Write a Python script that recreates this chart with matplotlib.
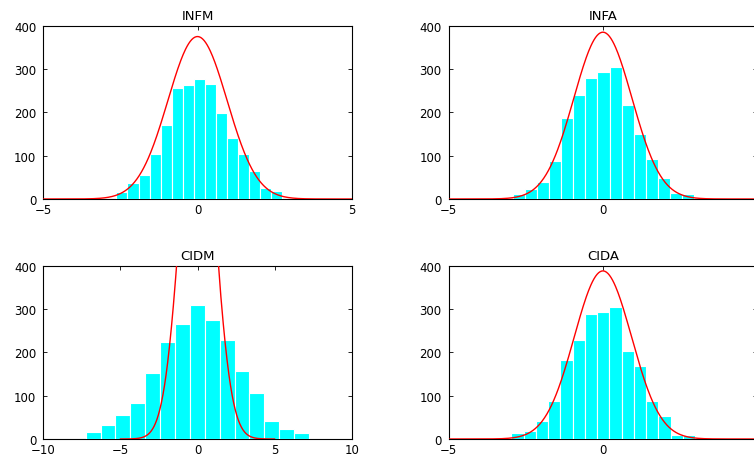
import numpy as np
import matplotlib
matplotlib.use('Agg')
import matplotlib.pyplot as plt

plt.rcParams['font.family'] = ['DejaVu Sans']

# panel titles
titles = ['INFM', 'INFA', 'CIDM', 'CIDA']

# histogram counts (15 bins each)
infm_counts = [17, 37, 56, 103, 170, 256, 264, 278, 266, 198, 140, 105, 65, 25, 19]
infa_counts = [12, 23, 39, 87, 186, 239, 280, 293, 304, 216, 150, 93, 49, 15, 12]
cidm_counts = [17, 33, 56, 84, 152, 224, 265, 310, 275, 229, 158, 107, 42, 23, 14]
cida_counts = [15, 19, 42, 87, 183, 228, 288, 294, 304, 202, 169, 88, 54, 10, 10]

# outer bin edges (min, max) of each histogram
infm_range = (-2.63, 2.75)
infa_range = (-2.91, 2.95)
cidm_range = (-7.25, 7.23)
cida_range = (-2.97, 2.99)

# fitted normal curves: peak height, mean, sigma
infm_fit = (375, 0.0, 0.96)
infa_fit = (385, 0.0, 0.94)
cidm_fit = (880, 0.0, 1.08)
cida_fit = (388, 0.0, 0.93)

# x limits and ticks
xlims = [(-5, 5), (-5, 5), (-10, 10), (-5, 5)]
xticks = [[-5, 0, 5], [-5, 0, 5], [-10, -5, 0, 5, 10], [-5, 0, 5]]
yticks = [0, 100, 200, 300, 400]

counts = [infm_counts, infa_counts, cidm_counts, cida_counts]
ranges = [infm_range, infa_range, cidm_range, cida_range]
fits = [infm_fit, infa_fit, cidm_fit, cida_fit]

W, H = 754, 460
fig = plt.figure(figsize=(W / 100, H / 100), dpi=100)

# axes boxes in pixels: left, top, right, bottom
boxes = [(43.3, 26.7, 351.7, 200), (448.7, 26.7, 757.1, 200),
         (43.3, 266.7, 351.7, 440), (448.7, 266.7, 757.1, 440)]

for i in range(4):
    l, t, r, b = boxes[i]
    ax = fig.add_axes([l / W, 1 - b / H, (r - l) / W, (b - t) / H])
    c = counts[i]
    edges = np.linspace(ranges[i][0], ranges[i][1], len(c) + 1)
    centers = (edges[:-1] + edges[1:]) / 2
    width = edges[1] - edges[0]
    ax.bar(centers, c, width=width, color='cyan', edgecolor='white',
           linewidth=0.8, zorder=2.6)
    a, mu, s = fits[i]
    xx = np.linspace(-5, 5, 400)
    ax.plot(xx, a * np.exp(-(xx - mu) ** 2 / (2 * s ** 2)), color='red',
            lw=1.0, zorder=3)
    ax.set_xlim(xlims[i])
    ax.set_ylim(0, 400)
    ax.set_xticks(xticks[i])
    ax.set_yticks(yticks)
    ax.tick_params(direction='in', top=True, right=True, length=3,
                   labelsize=8.5, width=0.6)
    ax.tick_params(axis='x', pad=3)
    ax.tick_params(axis='y', pad=5)
    for sp in ax.spines.values():
        sp.set_linewidth(0.8)
    ax.set_title(titles[i], fontsize=9.5, pad=5)

fig.savefig('out.png', dpi=100)
